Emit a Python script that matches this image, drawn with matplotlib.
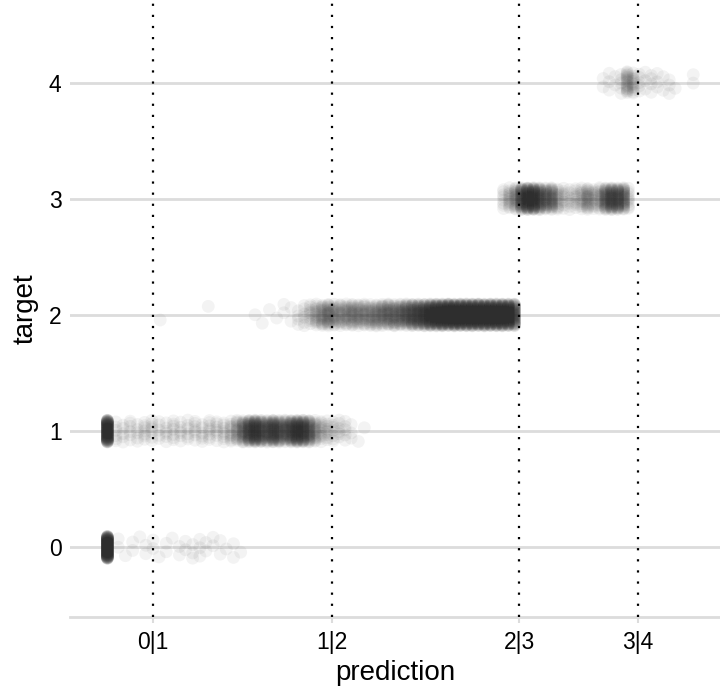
import numpy as np
import matplotlib
matplotlib.use("Agg")
import matplotlib.pyplot as plt

plt.rcParams['font.family'] = ['Liberation Sans', 'DejaVu Sans']

# cut points between adjacent classes on the prediction scale
thresholds = [-1.49, 0.0, 1.56, 2.55]
threshold_labels = ["0|1", "1|2", "2|3", "3|4"]
targets = [0, 1, 2, 3, 4]

# predicted value and number of cases at that value, one pair of lists per target
pred0 = [-1.87, -1.78, -1.72, -1.66, -1.60, -1.55, -1.49, -1.44, -1.38, -1.33,
         -1.27, -1.22, -1.16, -1.10, -1.05, -0.99, -0.93, -0.88, -0.82, -0.76]
n0 = [160, 2, 1, 2, 1, 2, 2, 1, 2, 1, 2, 2, 3, 3, 2, 2, 2, 1, 2, 1]

pred1 = [-1.87, -1.80, -1.74, -1.68, -1.62, -1.56, -1.50, -1.44, -1.38, -1.32,
         -1.26, -1.20, -1.14, -1.08, -1.02, -0.96, -0.90, -0.84, -0.79, -0.74,
         -0.69, -0.64, -0.59, -0.54, -0.49, -0.44, -0.39, -0.34, -0.29, -0.24,
         -0.19, -0.14, -0.09, -0.04, 0.01, 0.06, 0.11, 0.16, 0.22, 0.27]
n1 = [120, 6, 5, 6, 5, 7, 7, 5, 6, 7, 6, 6, 7, 6, 8, 7, 8, 11, 16, 28,
      42, 55, 40, 32, 50, 36, 30, 44, 55, 50, 36, 18, 11, 9, 7, 6, 5, 3, 1, 1]

pred2 = [-1.43, -1.03, -0.64, -0.58, -0.52, -0.46, -0.40, -0.34, -0.28, -0.23,
         -0.18, -0.13, -0.08, -0.03, 0.02, 0.07, 0.12, 0.17, 0.22, 0.27,
         0.32, 0.37, 0.42, 0.47, 0.52, 0.57, 0.62, 0.67, 0.72, 0.77,
         0.82, 0.87, 0.92, 0.97, 1.02, 1.07, 1.12, 1.17, 1.22, 1.27,
         1.32, 1.37, 1.42, 1.47, 1.52]
n2 = [1, 1, 1, 1, 1, 1, 2, 2, 4, 6, 9, 14, 18, 24, 18, 16, 18, 20, 19, 18,
      19, 21, 23, 26, 25, 27, 32, 38, 42, 48, 60, 65, 70, 75, 75, 75, 75, 75, 75, 75,
      75, 75, 75, 70, 60]

pred3 = [1.43, 1.48, 1.53, 1.58, 1.63, 1.68, 1.73, 1.78, 1.83, 1.88, 1.93,
         1.98, 2.03, 2.08, 2.13, 2.18, 2.23, 2.28, 2.33, 2.38, 2.43, 2.47]
n3 = [8, 12, 20, 45, 60, 60, 42, 26, 32, 14, 9, 7, 9, 12, 22, 10, 16, 34, 42, 38, 32, 10]

pred4 = [2.26, 2.31, 2.36, 2.41, 2.46, 2.51, 2.56, 2.61, 2.66, 2.71, 2.76, 2.81, 2.86, 3.01]
n4 = [2, 3, 2, 5, 20, 12, 5, 3, 4, 3, 2, 3, 1, 2]

preds = [pred0, pred1, pred2, pred3, pred4]
counts = [n0, n1, n2, n3, n4]

# expand to one row per case, vertical jitter from a golden-ratio sequence
xs, ys = [], []
k = 0
for t, p, n in zip(targets, preds, counts):
    for xv, c in zip(p, n):
        for _ in range(c):
            xs.append(xv)
            ys.append(t + ((k * 0.6180339887) % 1 - 0.5) * 0.19)
            k += 1

fig = plt.figure(figsize=(7.2, 6.91), dpi=100)
ax = fig.add_axes([0.097, 0.107, 0.903, 0.893])

for t in targets:
    ax.axhline(t, color='#dcdcdc', lw=2, zorder=0)

ax.scatter(xs, ys, s=85, c='#2e2e2e', alpha=0.055, edgecolors='none', zorder=2)

for th in thresholds:
    ax.axvline(th, color='black', lw=1.6, linestyle=(0, (1, 4)), zorder=3)

ax.set_xlim(-2.183, 3.233)
ax.set_ylim(-0.6, 4.71)

for s in ['top', 'right', 'left']:
    ax.spines[s].set_visible(False)
ax.spines['bottom'].set_color('#dcdcdc')
ax.spines['bottom'].set_linewidth(2)

ax.set_xticks(thresholds, threshold_labels)
ax.set_yticks(targets)
ax.tick_params(axis='x', length=4, width=1.5, color='#dcdcdc', pad=6, labelsize=16.5)
ax.tick_params(axis='y', length=0, pad=6, labelsize=16.5)

ax.set_xlabel('prediction', fontsize=20, labelpad=4)
ax.set_ylabel('target', fontsize=20, labelpad=7)

fig.savefig('out.png', dpi=100)
